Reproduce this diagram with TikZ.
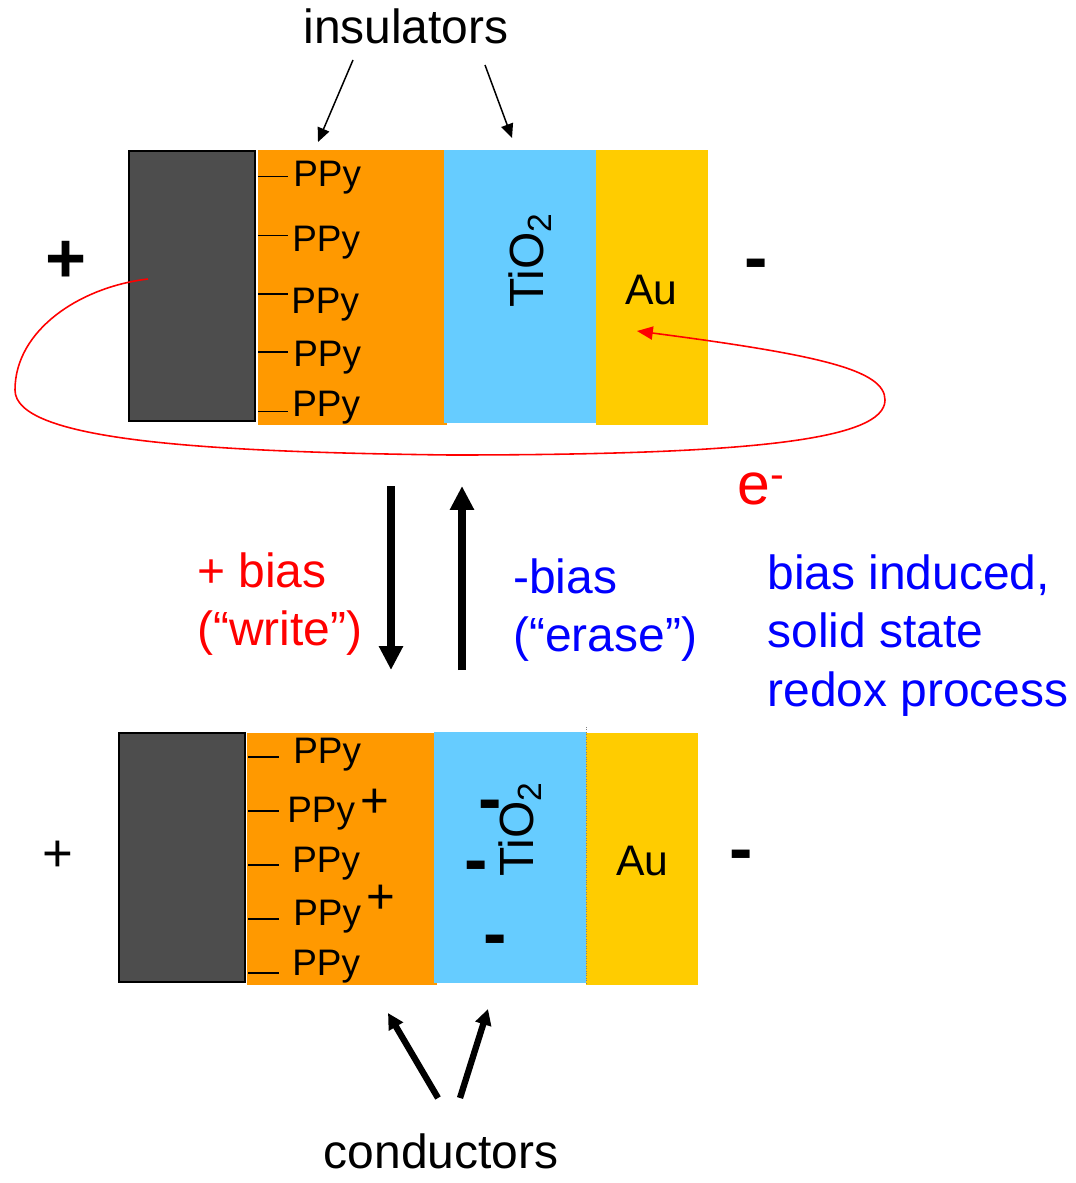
\documentclass[tikz,border=0pt]{standalone}
\usepackage{fontspec}
\setmainfont{Liberation Sans}
\usepackage{tikz}
\usetikzlibrary{arrows.meta,positioning,calc}

\definecolor{ppyorange}{HTML}{FF9900}
\definecolor{tioblue}{HTML}{66CCFF}
\definecolor{augold}{HTML}{FFCC00}
\definecolor{electrode}{HTML}{4D4D4D}
\definecolor{biasblue}{HTML}{0000FF}

\begin{document}
\begin{tikzpicture}[x=0.02cm, y=-0.02cm,
  slab/.style={rectangle, fill=#1, inner sep=0pt, outer sep=0pt, anchor=north west},
  metal/.style={slab=electrode, draw=black, line width=0.8pt},
  txt/.style={font=\fontsize{27.3}{33.5}\selectfont, inner sep=0pt},
  ppy/.style={font=\fontsize{21}{24}\selectfont, inner sep=0pt, anchor=base west},
  sign/.style={font=\fontsize{40}{48}\selectfont\bfseries, inner sep=0pt, anchor=base},
  stub/.style={line width=0.85pt},
  thin arrow/.style={-{Triangle[length=8pt, width=7pt]}, line width=0.85pt},
  bias arrow/.style={-{Triangle[length=13.6pt, width=13pt]}, line width=4.5pt},
  cond arrow/.style={-{Triangle[length=9pt, width=9pt]}, line width=3.6pt},
  eflow/.style={-{Triangle[length=9pt, width=7.5pt]}, red, line width=0.9pt}
]
  \useasboundingbox (0,0) rectangle (1075,1183);

  % top cell
  \node[metal, minimum width=2.52cm, minimum height=5.4cm] (elecT) at (129,151) {};
  \node[slab=ppyorange, minimum width=3.78cm, minimum height=5.5cm] (ppyT) at (258,150) {};
  \node[slab=tioblue, minimum width=3.04cm, minimum height=5.46cm] (tioT) at (444,150) {};
  \node[slab=augold, minimum width=2.24cm, minimum height=5.5cm] (auT) at (596,150) {};

  \foreach \i/\ly/\tx/\ty in {1/176.7/293/186.7, 2/235.7/292/251.7, 3/294/291/313,
                              4/352/293/366.7, 5/411.7/292/416.7} {
    \draw[stub] (258,\ly) -- (288,\ly);
    \node[ppy] (ppyT\i) at (\tx,\ty) {PPy};
  }
  \node[txt, rotate=90, anchor=base west] (tioTlbl) at (543,308) {TiO\textsubscript{2}};
  \node[font=\fontsize{24.3}{29}\selectfont, inner sep=0pt, anchor=base west] (auTlbl) at (625,304) {Au};
  \node[sign] (plusT) at (66,282) {+};
  \node[sign] (minusT) at (756,281) {-};

  \node[txt, anchor=base] (insul) at (406,43) {insulators};
  \coordinate (insA) at (353,60);
  \coordinate (insAtip) at (318,142);
  \coordinate (insB) at (485,65);
  \coordinate (insBtip) at (512,138);
  \draw[thin arrow] (insA) -- (insAtip);
  \draw[thin arrow] (insB) -- (insBtip);

  \coordinate (eStart) at (148,279);
  \coordinate (eEnd) at (637,331);
  \draw[eflow] (eStart) .. controls (80,287) and (15,330) .. (15,390)
                        .. controls (15,440) and (200,452) .. (450,455)
                        .. controls (750,455) and (885,440) .. (885,400)
                        .. controls (885,370) and (820,355) .. (eEnd);
  \node[font=\fontsize{33.5}{40}\selectfont, text=red, inner sep=0pt, anchor=base west] (elbl) at (737,504) {e\textsuperscript{-}};

  % switching
  \coordinate (wrTop) at (391,486);
  \coordinate (wrBot) at (391,670);
  \coordinate (erBot) at (462,670);
  \coordinate (erTop) at (462,486);
  \draw[bias arrow] (wrTop) -- (wrBot);
  \draw[bias arrow] (erBot) -- (erTop);

  \node[txt, text=red, align=left, anchor=north west] (writeLbl) at (197,552) {+ bias\\(“write”)};
  \node[txt, text=biasblue, align=left, anchor=north west] (eraseLbl) at (513,558) {-bias\\(“erase”)};
  \node[txt, text=biasblue, align=left, anchor=north west] (redoxLbl) at (767,554) {bias induced,\\solid state\\redox process};

  % bottom cell
  \node[metal, minimum width=2.52cm, minimum height=4.98cm] (elecB) at (119,733) {};
  \node[slab=ppyorange, minimum width=3.8cm, minimum height=5.04cm] (ppyB) at (247,733) {};
  \node[slab=tioblue, minimum width=3.04cm, minimum height=5.02cm] (tioB) at (434,732) {};
  \node[slab=augold, minimum width=2.24cm, minimum height=5.04cm] (auB) at (586,733) {};
  \draw[gray, densely dotted, line width=0.4pt] (586,727) -- (auB.south west);

  \foreach \i/\ly/\tx/\ty in {1/757/293/763, 2/811/287/822, 3/865/292/872,
                              4/919/293/925, 5/973/292/975} {
    \draw[stub] (248,\ly) -- (279,\ly);
    \node[ppy] (ppyB\i) at (\tx,\ty) {PPy};
  }
  \node[font=\fontsize{28}{32}\selectfont, inner sep=0pt, anchor=base] (holeA) at (375,817) {+};
  \node[font=\fontsize{28}{32}\selectfont, inner sep=0pt, anchor=base] (holeB) at (381,913) {+};

  \node[txt, rotate=90, anchor=base west] (tioBlbl) at (533,877) {TiO\textsubscript{2}};
  \node[sign] (chgA) at (490,822) {-};
  \node[sign] (chgB) at (476,883) {-};
  \node[sign] (chgC) at (495,957) {-};
  \node[font=\fontsize{24.3}{29}\selectfont, inner sep=0pt, anchor=base west] (auBlbl) at (616,875) {Au};
  \node[font=\fontsize{30}{36}\selectfont, inner sep=0pt, anchor=base] (plusB) at (58,871) {+};
  \node[sign] (minusB) at (741,872) {-};

  \node[txt, anchor=base] (cond) at (441,1168) {conductors};
  \coordinate (cdA) at (438,1098);
  \coordinate (cdAtip) at (388,1013);
  \coordinate (cdB) at (460,1098);
  \coordinate (cdBtip) at (488,1009);
  \draw[cond arrow] (cdA) -- (cdAtip);
  \draw[cond arrow] (cdB) -- (cdBtip);
\end{tikzpicture}
\end{document}
